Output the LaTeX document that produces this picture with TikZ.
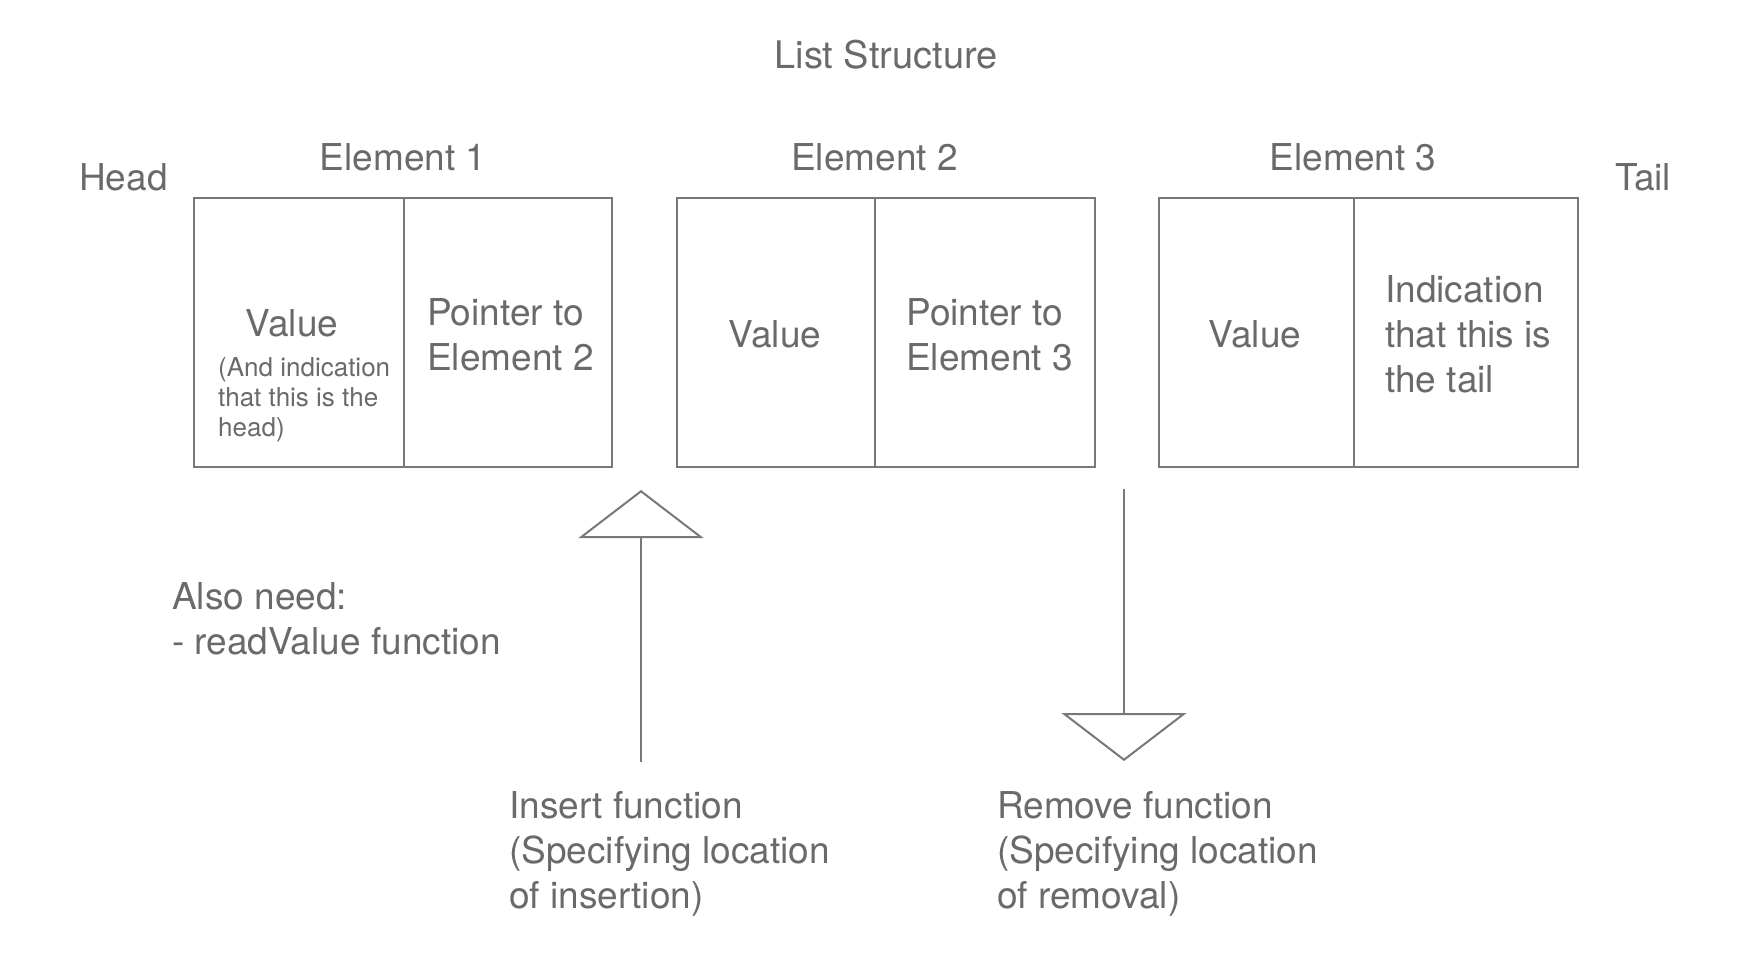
\documentclass[tikz,border=0pt]{standalone}
\usepackage{fontspec}
\setmainfont{TeX Gyre Heros}
\usetikzlibrary{arrows.meta}
\definecolor{txt}{RGB}{106,106,106}
\definecolor{ln}{RGB}{120,120,120}
\tikzset{
  lbl/.style={inner sep=0pt, text=txt, font=\fontsize{37}{45}\selectfont},
  small/.style={inner sep=0pt, text=txt, font=\fontsize{26}{30}\selectfont, align=left},
  cell/.style={draw=ln, line width=2pt, minimum height=269pt, inner sep=0pt},
  bigarrow/.style={draw=ln, line width=2pt, -{Triangle[open, length=48pt, width=125pt, fill=white]}}
}
\begin{document}
\begin{tikzpicture}[x=1pt, y=-1pt]
\useasboundingbox[fill=white] (0,0) rectangle (1740,954);
% title and side labels
\node[lbl, font=\fontsize{38}{45}\selectfont] (title) at (886,55) {List Structure};
\node[lbl, anchor=west] (head) at (79,177) {Head};
\node[lbl, anchor=west] (tail) at (1615,177) {Tail};
% element labels
\node[lbl] (e1lab) at (403,157) {Element 1};
\node[lbl] (e2lab) at (874.5,157) {Element 2};
\node[lbl] (e3lab) at (1353,157) {Element 3};
% boxes (left and right cells)
\node[cell, minimum width=210pt, anchor=north west] (b1l) at (193,197) {};
\node[cell, minimum width=208pt, anchor=north west] (b1r) at (403,197) {};
\node[cell, minimum width=198pt, anchor=north west] (b2l) at (676,197) {};
\node[cell, minimum width=220pt, anchor=north west] (b2r) at (874,197) {};
\node[cell, minimum width=195pt, anchor=north west] (b3l) at (1158,197) {};
\node[cell, minimum width=224pt, anchor=north west] (b3r) at (1353,197) {};
% box 1 texts
\node[lbl] (v1) at (292,323) {Value};
\node[small, anchor=west] (v1s) at (218,400) {(And indication\\that this is the\\head)};
\node[lbl, anchor=west, align=left] (p1) at (427,335) {Pointer to\\Element 2};
% box 2 texts
\node[lbl] (v2) at (775,334) {Value};
\node[lbl, anchor=west, align=left] (p2) at (906,335) {Pointer to\\Element 3};
% box 3 texts
\node[lbl] (v3) at (1255,334) {Value};
\node[lbl, anchor=west, align=left] (t3) at (1385,334) {Indication\\that this is\\the tail};
% also need
\node[lbl, anchor=west, align=left] (also) at (172,619) {Also need:\\- readValue function};
% functions
\node[lbl, anchor=west, align=left] (ins) at (509,854) {Insert function\\(Specifying location\\of insertion)};
\node[lbl, anchor=west, align=left] (rem) at (997,854) {Remove function\\(Specifying location\\of removal)};
% arrows
\coordinate (insS) at (641,762);
\coordinate (insE) at (641,490);
\coordinate (remS) at (1124,489);
\coordinate (remE) at (1124,761);
\draw[bigarrow] (insS) -- (insE);
\draw[bigarrow] (remS) -- (remE);
\end{tikzpicture}
\end{document}
